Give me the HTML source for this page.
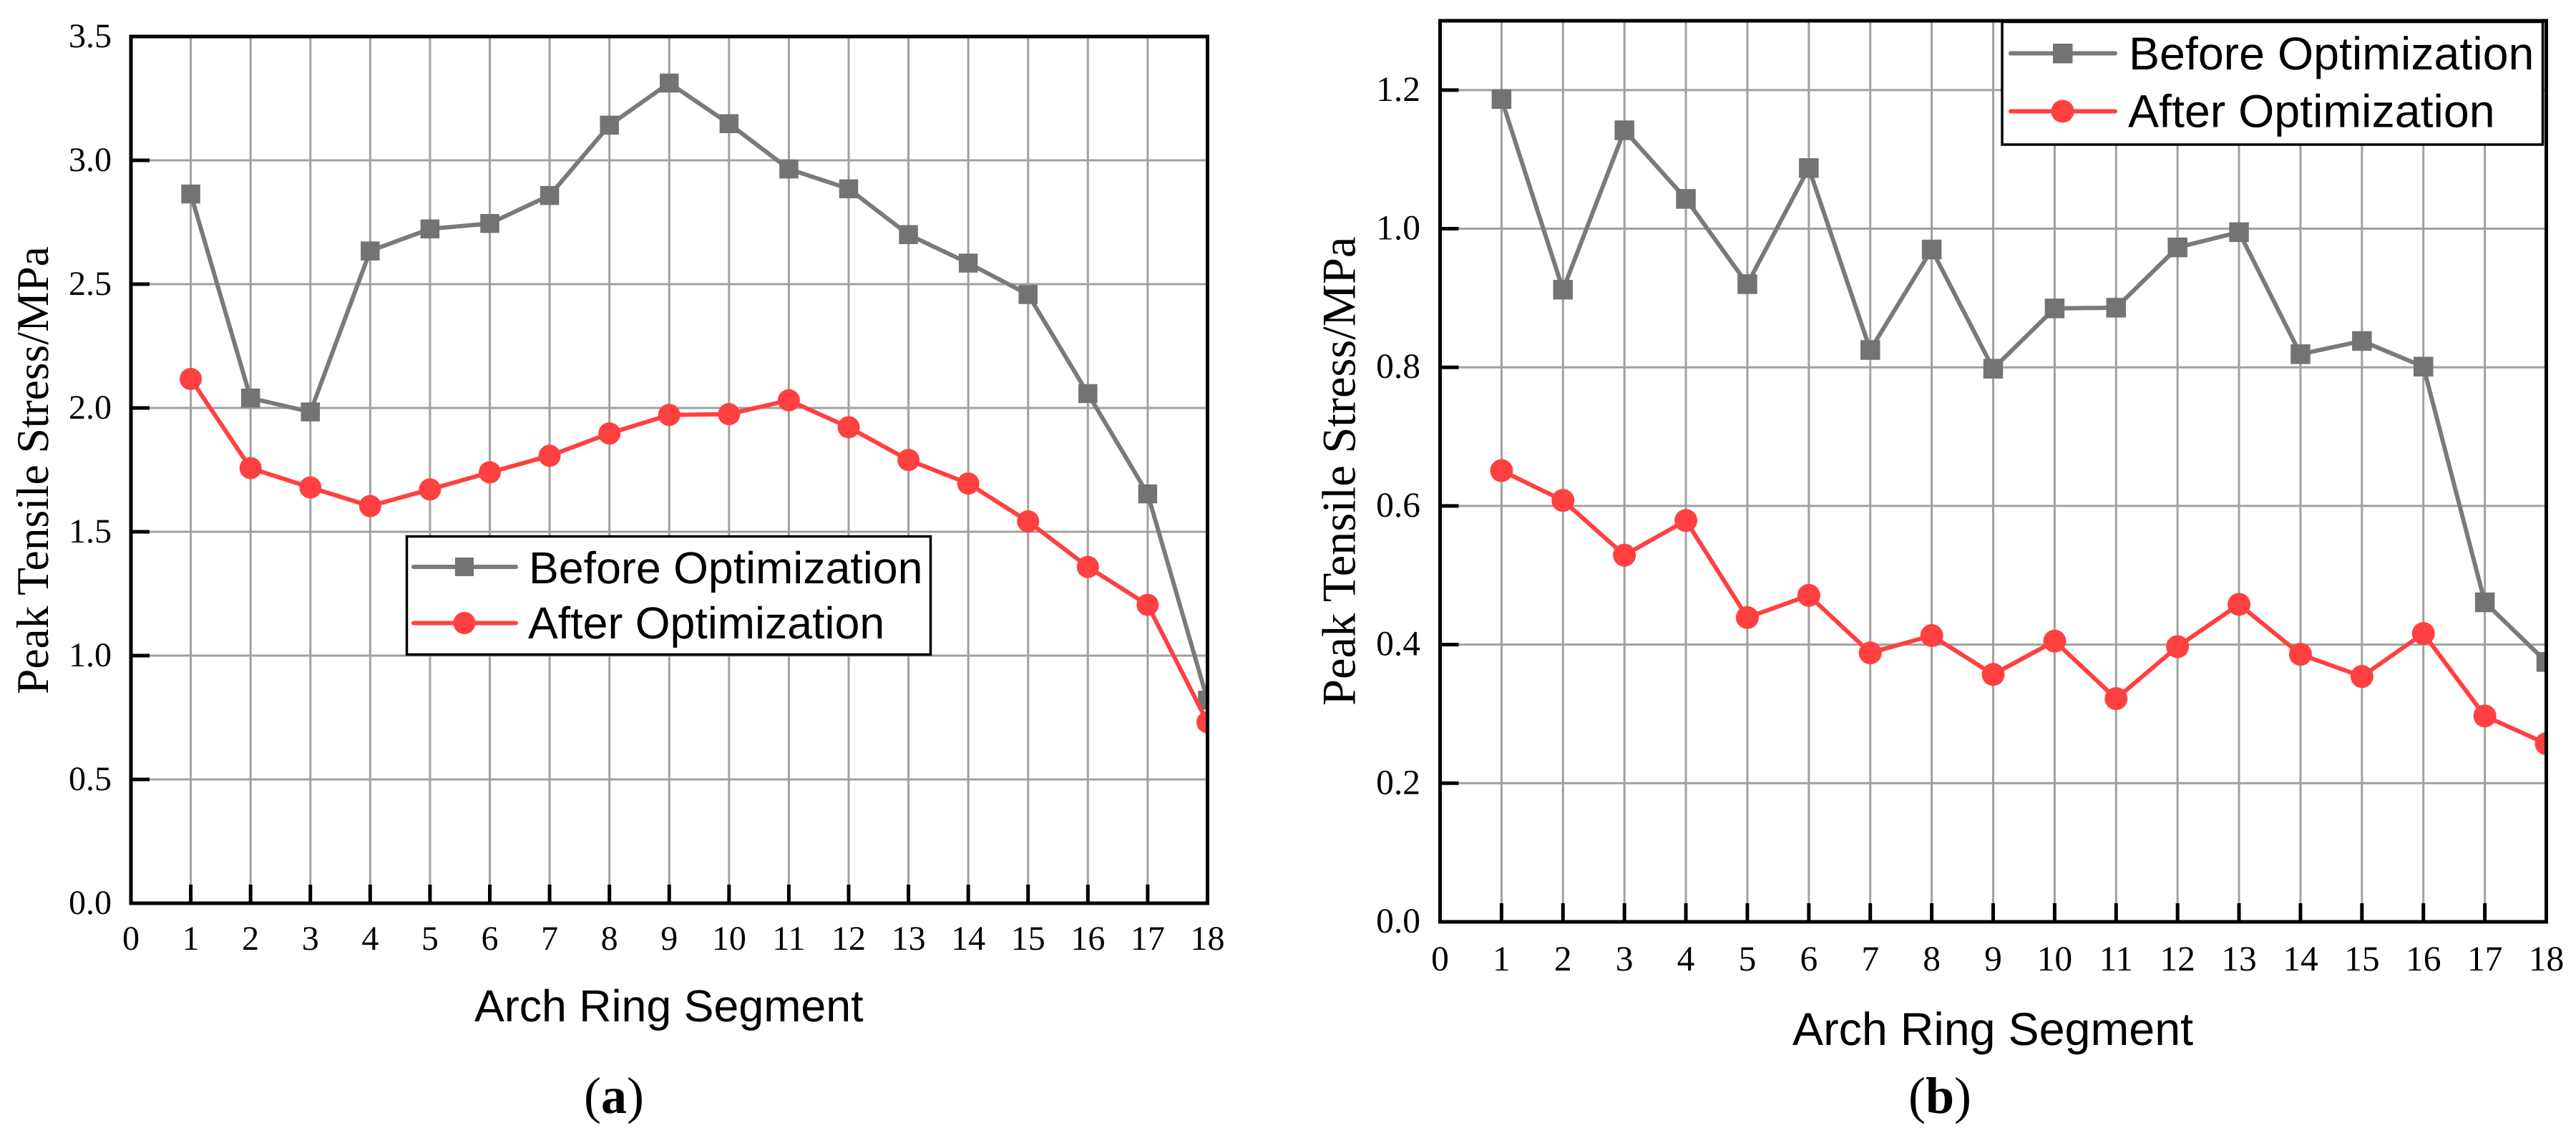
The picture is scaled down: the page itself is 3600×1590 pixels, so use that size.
<!DOCTYPE html>
<html lang="en">
<head>
<meta charset="utf-8">
<title>Peak Tensile Stress Before and After Optimization</title>
<style>
html,body{margin:0;padding:0;background:#fff;}
svg{display:block;text-rendering:geometricPrecision;}
.serif{font-family:"Liberation Serif",serif;}
.sans{font-family:"Liberation Sans",sans-serif;}
</style>
</head>
<body>
<svg id="figure" xmlns="http://www.w3.org/2000/svg" width="3600" height="1590" viewBox="0 0 3600 1590">
  <rect x="0" y="0" width="3600" height="1590" fill="#fff"/>
  <g id="chart-a"></g>
  <g id="chart-b"></g>

  <g>
    <rect x="568.5" y="749.5" width="732" height="165" fill="#fff" stroke="#000" stroke-width="3.5"/>
    <g>
      <line x1="578" y1="792" x2="721" y2="792" stroke="#7a7a7a" stroke-width="6" stroke-linecap="round"/>
      <rect x="636" y="779" width="26" height="26" fill="#737373"/>
      <text class="sans" x="739" y="815" font-size="62.7" fill="#000">Before Optimization</text>
    </g>
    <g>
      <line x1="578" y1="870.5" x2="721" y2="870.5" stroke="#ff4040" stroke-width="6" stroke-linecap="round"/>
      <circle cx="649" cy="870.5" r="15.5" fill="#ff4040"/>
      <text class="sans" x="738" y="892" font-size="62.7" fill="#000">After Optimization</text>
    </g>
  </g>

  <g>
    <rect x="2798" y="30.5" width="755.5" height="171.5" fill="#fff" stroke="#000" stroke-width="3.5"/>
    <g>
      <line x1="2810" y1="74.5" x2="2956" y2="74.5" stroke="#7a7a7a" stroke-width="6" stroke-linecap="round"/>
      <rect x="2869" y="61" width="27.5" height="27.5" fill="#737373"/>
      <text class="sans" x="2975" y="97" font-size="64.5" fill="#000">Before Optimization</text>
    </g>
    <g>
      <line x1="2810" y1="155.5" x2="2956" y2="155.5" stroke="#ff4040" stroke-width="6" stroke-linecap="round"/>
      <circle cx="2882.5" cy="155.5" r="16" fill="#ff4040"/>
      <text class="sans" x="2974" y="177.5" font-size="64.5" fill="#000">After Optimization</text>
    </g>
  </g>

  <text class="serif" x="858" y="1555" font-size="72" text-anchor="middle" fill="#000">(<tspan font-weight="bold">a</tspan>)</text>
  <text class="serif" x="2711" y="1555" font-size="72" text-anchor="middle" fill="#000">(<tspan font-weight="bold">b</tspan>)</text>
</svg>

<script>
// Shared category axis
const segments = [1,2,3,4,5,6,7,8,9,10,11,12,13,14,15,16,17,18];
const xTickLabels = ['0','1','2','3','4','5','6','7','8','9','10','11','12','13','14','15','16','17','18'];

// Chart (a) data
const beforeA = [2.864,2.04,1.984,2.634,2.723,2.745,2.858,3.142,3.312,3.148,2.965,2.885,2.70,2.585,2.458,2.058,1.653,0.82];
const afterA = [2.117,1.757,1.679,1.604,1.671,1.74,1.807,1.897,1.972,1.975,2.031,1.922,1.79,1.695,1.542,1.358,1.205,0.731];
const yTicksA = [0,0.5,1,1.5,2,2.5,3,3.5];
const yTickLabelsA = ['0.0','0.5','1.0','1.5','2.0','2.5','3.0','3.5'];

// Chart (b) data
const beforeB = [1.187,0.912,1.142,1.043,0.92,1.0875,0.825,0.97,0.798,0.885,0.886,0.973,0.995,0.819,0.838,0.801,0.461,0.375];
const afterB = [0.651,0.608,0.529,0.579,0.439,0.471,0.388,0.413,0.357,0.405,0.322,0.397,0.458,0.386,0.354,0.416,0.297,0.257];
const yTicksB = [0,0.2,0.4,0.6,0.8,1,1.2];
const yTickLabelsB = ['0.0','0.2','0.4','0.6','0.8','1.0','1.2'];

const SVG_NS = 'http://www.w3.org/2000/svg';
const GRID = '#a0a0a0', GREY_LINE = '#7a7a7a', GREY_MARK = '#737373', RED = '#ff4040';

function make(tag, parent, props) {
  const node = document.createElementNS(SVG_NS, tag);
  for (const k in props) node.setAttribute(k, props[k]);
  parent.appendChild(node);
  return node;
}

function drawChart(o) {
  const root = document.getElementById(o.id);
  const xScale = v => o.left + (v - 0) / 18 * (o.right - o.left);
  const yScale = v => o.bottom - (v - 0) / o.yMax * (o.bottom - o.top);

  const clip = make('clipPath', root, {id: o.id + '-clip'});
  make('rect', clip, {x: o.left, y: o.top, width: o.right - o.left, height: o.bottom - o.top});

  // Grid
  const grid = make('g', root, {stroke: GRID, 'stroke-width': 3});
  
  
  segments.slice(0, -1).forEach(s => {
    const line = make('line', grid, {x1: xScale(s), x2: xScale(s), y1: o.top, y2: o.bottom});
    
    
  });
  o.yTicks.slice(1, o.yTicks[o.yTicks.length - 1] >= o.yMax ? -1 : undefined).forEach((t, i) => {
    const line = make('line', grid, {x1: o.left, x2: o.right, y1: yScale(t), y2: yScale(t)});
    
    
  });

  // Series
  const seriesDefs = [
    {key: 'before', values: o.before, color: GREY_LINE},
    {key: 'after', values: o.after, color: RED}
  ];
  seriesDefs.forEach(def => {
    const g = make('g', root, {'clip-path': 'url(#' + o.id + '-clip)'});
    
    
    const pts = def.values.map((v, i) => xScale(segments[i]).toFixed(1) + ',' + yScale(v).toFixed(1)).join(' ');
    const path = make('polyline', g, {points: pts, fill: 'none', stroke: def.color, 'stroke-width': 6, 'stroke-linejoin': 'round'});
    
    
    def.values.forEach((v, i) => {
      const cx = xScale(segments[i]), cy = yScale(v);
      let mark;
      if (def.key === 'before') {
        mark = make('rect', g, {x: cx - o.sq / 2, y: cy - o.sq / 2, width: o.sq, height: o.sq, fill: GREY_MARK});
      } else {
        mark = make('circle', g, {cx: cx, cy: cy, r: o.r, fill: RED});
      }
      
      
    });
  });

  // Frame
  const frame = make('rect', root, {x: o.left, y: o.top, width: o.right - o.left, height: o.bottom - o.top, fill: 'none', stroke: '#000', 'stroke-width': 5});
  
  

  // Y ticks and labels
  o.yTicks.forEach((t, i) => {
    const y = yScale(t);
    if (t > 0 && t < o.yMax) {
      const tick = make('line', root, {x1: o.left, x2: o.left + 26, y1: y, y2: y, stroke: '#000', 'stroke-width': 5});
      
      
    }
    const label = make('text', root, {x: o.yLabelX, y: y + 15, 'text-anchor': 'end', 'font-size': o.tickFont, 'class': 'serif', fill: '#000'});
    label.textContent = o.yTickLabels[i];
    
    
  });

  // X ticks and labels
  xTickLabels.forEach((lab, i) => {
    const x = xScale(i);
    if (i > 0 && i < 18) {
      const tick = make('line', root, {x1: x, x2: x, y1: o.bottom - 26, y2: o.bottom, stroke: '#000', 'stroke-width': 5});
      
      
    }
    const label = make('text', root, {x: x, y: o.xLabelY, 'text-anchor': 'middle', 'font-size': o.tickFont, 'class': 'serif', fill: '#000'});
    label.textContent = lab;
    
    
  });

  // Axis titles
  const xTitle = make('text', root, {x: o.xTitleX, y: o.xTitleY, 'text-anchor': 'start', 'font-size': o.xTitleFont, 'class': 'sans', fill: '#000'});
  xTitle.textContent = 'Arch Ring Segment';
  
  

  const yTitle = make('text', root, {transform: 'translate(' + o.yTitleX + ',' + o.yTitleY + ') rotate(-90)', 'font-size': o.yTitleFont, 'class': 'serif', fill: '#000'});
  yTitle.textContent = 'Peak Tensile Stress/MPa';
  
  
}

drawChart({
  id: 'chart-a', left: 183, right: 1687.5, top: 51, bottom: 1262, yMax: 3.5,
  before: beforeA, after: afterA, yTicks: yTicksA, yTickLabels: yTickLabelsA,
  sq: 26.5, r: 15.5, tickFont: 48, yLabelX: 156, xLabelY: 1327,
  xTitleX: 663, xTitleY: 1427, xTitleFont: 62.7, yTitleX: 67, yTitleY: 970, yTitleFont: 63.5
});
drawChart({
  id: 'chart-b', left: 2012.5, right: 3558.5, top: 29, bottom: 1288, yMax: 1.3,
  before: beforeB, after: afterB, yTicks: yTicksB, yTickLabels: yTickLabelsB,
  sq: 27.5, r: 16, tickFont: 49.5, yLabelX: 1985, xLabelY: 1356,
  xTitleX: 2505, xTitleY: 1460, xTitleFont: 64.6, yTitleX: 1893.5, yTitleY: 986, yTitleFont: 66.5
});
</script>
</body>
</html>
